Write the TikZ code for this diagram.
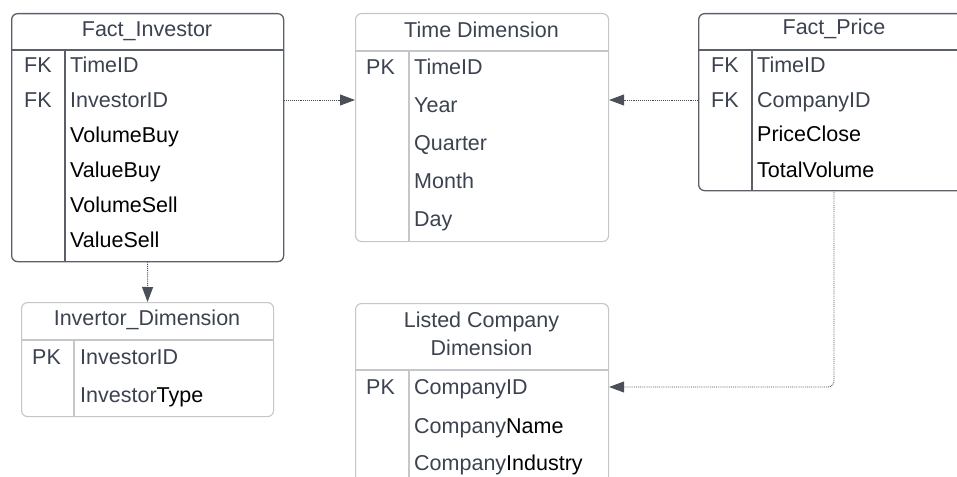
\documentclass[tikz,border=0pt]{standalone}
\usepackage{fontspec}
\setmainfont{Liberation Sans}
\usetikzlibrary{arrows.meta}
\definecolor{txtgray}{HTML}{3C4350}
\definecolor{factline}{HTML}{5A5F68}
\definecolor{dimline}{HTML}{C4C6C9}
\definecolor{connline}{HTML}{4A4F58}
\tikzset{
  factbox/.style={draw=factline, line width=1.3pt, rounded corners=6pt, inner sep=0, anchor=north west, fill=white},
  dimbox/.style={draw=dimline, line width=1.1pt, rounded corners=6pt, inner sep=0, anchor=north west, fill=white},
  factsep/.style={draw=factline, line width=1.1pt},
  dimsep/.style={draw=dimline, line width=1.1pt},
  cell/.style={inner sep=0, anchor=west, text height=15.5pt, text depth=0pt, font=\fontsize{21.5}{28}\selectfont, text=txtgray},
  blk/.style={cell, text=black},
  title/.style={inner sep=0, anchor=center, font=\fontsize{21.5}{28}\selectfont, text=txtgray, align=center},
  conn/.style={draw=connline, line width=0.9pt, densely dotted, -{Triangle[length=15pt,width=11pt]}},
}
\begin{document}
\begin{tikzpicture}[x=1pt,y=-1pt]
\useasboundingbox (0,0) rectangle (957,476);
\clip (0,0) rectangle (957,476);
% ---------- Fact_Investor ----------
\node[factbox, minimum width=272pt, minimum height=248pt] (fi) at (11,13) {};
\draw[factsep] (11,50) -- (283,50);
\draw[factsep] (65,50) -- (65,261);
\node[title] (fiT) at (147,31) {Fact\_Investor};
\node[cell] (fiK1) at (24,65) {FK};
\node[cell] (fiK2) at (24,100) {FK};
\node[cell] (fiR1) at (70,65) {TimeID};
\node[cell] (fiR2) at (70,100) {InvestorID};
\node[blk] (fiR3) at (70,135) {VolumeBuy};
\node[blk] (fiR4) at (70,170) {ValueBuy};
\node[blk] (fiR5) at (70,205) {VolumeSell};
\node[blk] (fiR6) at (70,240) {ValueSell};
% ---------- Time Dimension ----------
\node[dimbox, minimum width=253pt, minimum height=228pt] (td) at (355,13) {};
\draw[dimsep] (355,51) -- (608,51);
\draw[dimsep] (409,51) -- (409,241);
\node[title] (tdT) at (481.5,30) {Time Dimension};
\node[cell] (tdK1) at (366,67) {PK};
\node[cell] (tdR1) at (414,67) {TimeID};
\node[cell] (tdR2) at (414,105) {Year};
\node[cell] (tdR3) at (414,143) {Quarter};
\node[cell] (tdR4) at (414,181) {Month};
\node[cell] (tdR5) at (414,219) {Day};
% ---------- Fact_Price ----------
\node[factbox, minimum width=272pt, minimum height=177pt] (fp) at (698,13) {};
\draw[factsep] (698,50) -- (970,50);
\draw[factsep] (752,50) -- (752,190);
\node[title] (fpT) at (834,29) {Fact\_Price};
\node[cell] (fpK1) at (711,65) {FK};
\node[cell] (fpK2) at (711,100) {FK};
\node[cell] (fpR1) at (757,65) {TimeID};
\node[cell] (fpR2) at (757,100) {CompanyID};
\node[blk] (fpR3) at (757,134) {PriceClose};
\node[blk] (fpR4) at (757,170) {TotalVolume};
% ---------- Invertor_Dimension ----------
\node[dimbox, minimum width=252pt, minimum height=114pt] (id) at (21,302) {};
\draw[dimsep] (21,340) -- (273,340);
\draw[dimsep] (74,340) -- (74,416);
\node[title] (idT) at (147,320) {Invertor\_Dimension};
\node[cell] (idK1) at (32,357) {PK};
\node[cell] (idR1) at (80,357) {InvestorID};
\node[cell] (idR2) at (80,395) {Investor\textcolor{black}{Type}};
% ---------- Listed Company Dimension ----------
\node[dimbox, minimum width=253pt, minimum height=190pt] (lc) at (355,303) {};
\draw[dimsep] (355,370) -- (608,370);
\draw[dimsep] (409,370) -- (409,500);
\node[title] (lcT) at (481.5,334) {Listed Company\\Dimension};
\node[cell] (lcK1) at (366,387) {PK};
\node[cell] (lcR1) at (414,387) {CompanyID};
\node[cell] (lcR2) at (414,426) {Company\textcolor{black}{Name}};
\node[cell] (lcR3) at (414,463) {Company\textcolor{black}{Industry}};
% ---------- connectors ----------
\draw[conn] (fi.east |- fiR2) -- (td.west |- fiR2);
\draw[conn] (fp.west |- fpR2) -- (td.east |- fpR2);
\draw[conn] (fi.south) -- (id.north);
\coordinate (fpb) at (834,190);
\draw[conn, rounded corners=6pt] (fpb) |- (lc.east |- lcR1);
\end{tikzpicture}
\end{document}
